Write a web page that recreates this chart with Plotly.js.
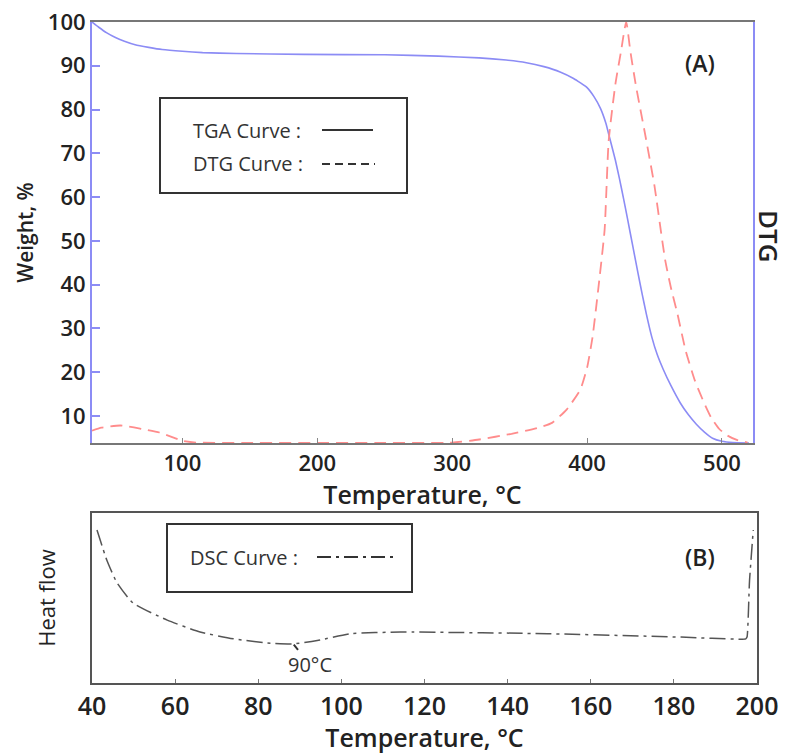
<!DOCTYPE html>
<html>
<head>
<meta charset="utf-8">
<script src="https://cdn.plot.ly/plotly-3.0.1.min.js"></script>
<style>html,body{margin:0;padding:0;background:#fff;}#chart{width:794px;height:754px;}</style>
</head>
<body>
<div id="chart"></div>
<script>
// ---- Data ----
// TGA curve: temperature (°C) vs weight (%)
const tgaTemp   = [33, 38, 44, 50, 57, 65, 75, 85, 100, 115, 140, 190, 250, 290, 320, 340, 355, 368, 380, 390, 400, 405, 410, 414, 417, 421, 424, 427, 430, 434, 438, 441, 444, 448, 452, 456.5, 462, 469, 475, 481, 487, 493, 500, 508, 520];
const tgaWeight = [100, 98.8, 97.5, 96.5, 95.6, 94.8, 94.2, 93.7, 93.3, 93.0, 92.8, 92.6, 92.5, 92.2, 91.8, 91.3, 90.7, 89.8, 88.6, 87.1, 85, 83, 80.2, 76.8, 73.2, 68.4, 64.2, 59.7, 55, 48.6, 42.2, 37.6, 33.2, 28, 24, 20.6, 17, 13, 10.3, 8.1, 6.3, 4.9, 4.2, 3.9, 3.8];

// DTG curve (same visual scale, right-hand "DTG" axis)
const dtgTemp  = [33, 40, 54, 70, 83, 100, 110, 150, 200, 250, 300, 320, 344, 364, 374, 385, 395, 400, 404, 409, 413, 416, 421, 425, 429, 432, 436, 443, 450, 455, 458, 462, 467, 473, 480, 486, 492, 498, 504, 511, 519];
const dtgValue = [6.6, 7.3, 7.8, 7, 6.2, 4.3, 3.9, 3.8, 3.8, 3.8, 3.9, 4.6, 5.9, 7.3, 8.4, 11.5, 16, 21, 27.9, 40.9, 52.5, 72.8, 85.8, 93, 100, 93.5, 85.8, 74.4, 62.5, 51.6, 45.4, 39.5, 33.3, 25, 18, 13.5, 9.6, 7, 5.5, 4.5, 3.9];

// DSC curve: temperature (°C) vs heat flow (arbitrary units)
const dscTemp = [41.2, 43.6, 46, 49.9, 58.1, 66, 74, 82.2, 88.4, 94.2, 102.2, 114.2, 117.3, 149.6, 181.7, 197.3, 197.6, 198.2, 199.1];
const dscHeat = [90, 72, 59, 47, 37, 30, 26, 23.5, 23, 25, 29, 30, 30, 29, 27, 26, 27, 60, 90];

// Tick labels
const topXTicks = [100, 200, 300, 400, 500];
const topYTicks = [10, 20, 30, 40, 50, 60, 70, 80, 90, 100];
const botXTicks = [40, 60, 80, 100, 120, 140, 160, 180, 200];

// ---- Styles ----
const FONT = "Open Sans, Noto Sans, sans-serif";
const TXT = "#222";
const BLUE = "#8c8cf5";
const RED = "#ff8c8c";
const DSC = "#555";

const W = 794, H = 754;
const px = v => v / W;
const py = v => 1 - v / H;

const traces = [
  { x: tgaTemp, y: tgaWeight, xaxis: "x", yaxis: "y", mode: "lines", name: "TGA Curve",
    line: { color: BLUE, width: 1.6, shape: "spline", smoothing: 0.4 }, hoverinfo: "x+y" },
  { x: dtgTemp, y: dtgValue, xaxis: "x", yaxis: "y2", mode: "lines", name: "DTG Curve",
    line: { color: RED, width: 1.8, dash: "12px,7px", shape: "spline", smoothing: 0.5 }, hoverinfo: "x+y" },
  { x: dscTemp, y: dscHeat, xaxis: "x2", yaxis: "y3", mode: "lines", name: "DSC Curve",
    line: { color: DSC, width: 1.5, dash: "16px,5px,3px,5px", shape: "spline", smoothing: 0.5 }, hoverinfo: "x+y" }
];

const layout = {
  width: W, height: H,
  margin: { l: 0, r: 0, t: 0, b: 0 },
  paper_bgcolor: "#fff", plot_bgcolor: "#fff",
  showlegend: false,
  font: { family: FONT, color: TXT },
  xaxis: {
    domain: [px(92), px(753)], anchor: "y", range: [33, 523],
    tickvals: topXTicks, ticks: "inside", ticklen: 5, tickwidth: 1, tickcolor: "#888",
    showline: true, linecolor: "#777", linewidth: 2, mirror: true,
    showgrid: false, zeroline: false,
    tickfont: { size: 22, weight: 600, color: TXT },
    title: { text: "Temperature, °C", font: { size: 25, weight: 600, color: TXT }, standoff: 5 }
  },
  yaxis: {
    domain: [py(443), py(22)], anchor: "x", range: [3.8, 100],
    tickvals: topYTicks, ticks: "inside", ticklen: 8, tickwidth: 2, tickcolor: BLUE,
    showline: true, linecolor: BLUE, linewidth: 2, mirror: true,
    showgrid: false, zeroline: false,
    tickfont: { size: 22, weight: 600, color: TXT },
    title: { text: "Weight, %", font: { size: 21, weight: 600, color: TXT }, standoff: 8 }
  },
  yaxis2: {
    overlaying: "y", side: "right", anchor: "x", range: [3.8, 100],
    showticklabels: false, ticks: "", showgrid: false, zeroline: false, showline: false
  },
  xaxis2: {
    domain: [px(92), px(757)], anchor: "y3", range: [40, 200],
    tickvals: botXTicks, ticks: "inside", ticklen: 4, tickwidth: 1, tickcolor: "#777",
    showline: true, linecolor: "#555", linewidth: 2, mirror: true,
    showgrid: false, zeroline: false,
    tickfont: { size: 25, weight: 600, color: TXT },
    title: { text: "Temperature, °C", font: { size: 25, weight: 600, color: TXT }, standoff: 5 }
  },
  yaxis3: {
    domain: [py(683), py(513)], anchor: "x2", range: [0, 100],
    showticklabels: false, ticks: "", showline: true, linecolor: "#555", linewidth: 2, mirror: true,
    showgrid: false, zeroline: false,
    title: { text: "Heat flow", font: { size: 22, weight: 500, color: TXT }, standoff: 28 }
  },
  shapes: [
    // legend box (A)
    { type: "rect", xref: "paper", yref: "paper", x0: px(160), x1: px(407), y0: py(193), y1: py(98),
      line: { color: "#333", width: 2 }, fillcolor: "rgba(255,255,255,0)" },
    { type: "line", xref: "paper", yref: "paper", x0: px(322), x1: px(373), y0: py(130), y1: py(130),
      line: { color: "#333", width: 2 } },
    { type: "line", xref: "paper", yref: "paper", x0: px(322), x1: px(375), y0: py(164), y1: py(164),
      line: { color: "#333", width: 2, dash: "8px,5px" } },
    // legend box (B)
    { type: "rect", xref: "paper", yref: "paper", x0: px(167), x1: px(412), y0: py(592), y1: py(524),
      line: { color: "#333", width: 2 }, fillcolor: "rgba(255,255,255,0)" },
    { type: "line", xref: "paper", yref: "paper", x0: px(317), x1: px(393), y0: py(557), y1: py(557),
      line: { color: "#333", width: 2, dash: "14px,5px,3px,5px" } }
  ],
  annotations: [
    { xref: "paper", yref: "paper", x: px(191), y: py(130), xanchor: "left", yanchor: "middle",
      text: "TGA Curve :", showarrow: false, font: { size: 20, color: "#333" } },
    { xref: "paper", yref: "paper", x: px(191), y: py(164), xanchor: "left", yanchor: "middle",
      text: "DTG Curve :", showarrow: false, font: { size: 20, color: "#333" } },
    { xref: "paper", yref: "paper", x: px(188), y: py(557), xanchor: "left", yanchor: "middle",
      text: "DSC Curve :", showarrow: false, font: { size: 20, color: "#333" } },
    { xref: "paper", yref: "paper", x: px(700), y: py(63), xanchor: "center", yanchor: "middle",
      text: "(A)", showarrow: false, font: { size: 23, weight: 600, color: TXT } },
    { xref: "paper", yref: "paper", x: px(700), y: py(557), xanchor: "center", yanchor: "middle",
      text: "(B)", showarrow: false, font: { size: 23, weight: 600, color: TXT } },
    { xref: "paper", yref: "paper", x: px(769), y: py(236), xanchor: "center", yanchor: "middle",
      text: "DTG", textangle: 90, showarrow: false, font: { size: 26, weight: 600, color: TXT } },
    { xref: "x2", yref: "y3", x: 88.4, y: 23, text: "90°C", showarrow: true, arrowhead: 0,
      arrowwidth: 2, arrowcolor: "#333", ax: 17, ay: 21, standoff: 1,
      font: { size: 20, color: "#333" } }
  ]
};

Plotly.newPlot("chart", traces, layout, { displayModeBar: false, staticPlot: true });
</script>
</body>
</html>
